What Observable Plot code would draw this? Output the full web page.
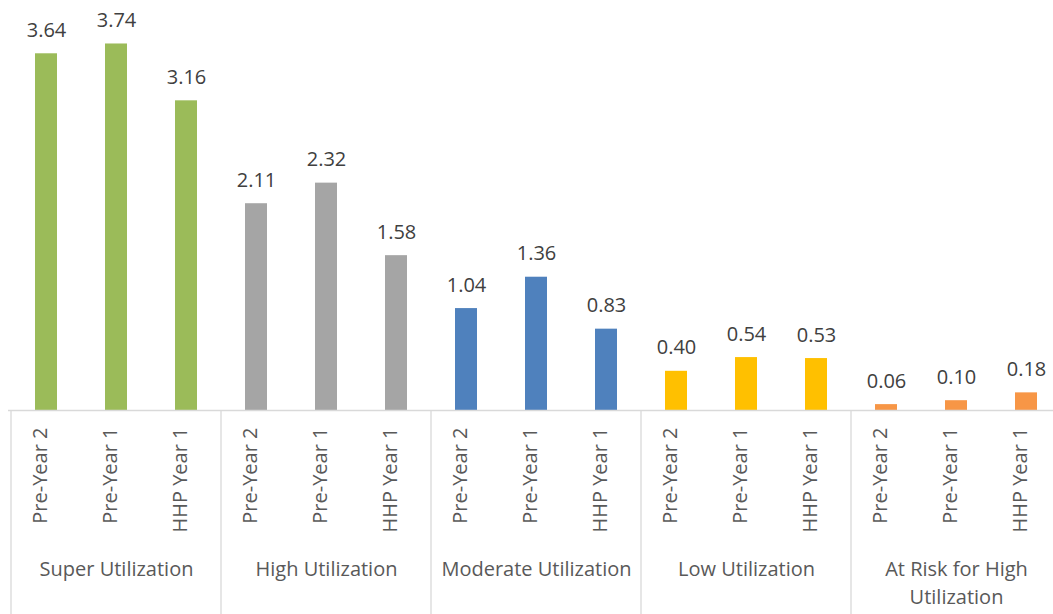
<!DOCTYPE html>
<html>
<head>
<meta charset="utf-8">
<script src="https://cdn.jsdelivr.net/npm/d3@7"></script>
<script src="https://cdn.jsdelivr.net/npm/@observablehq/plot@0.6"></script>
<style>
  html, body { margin: 0; padding: 0; background: #fff; }
  #chart svg { display: block; }
</style>
</head>
<body>
<div id="chart"></div>
<script>
// ---- data ----
const groups = ["Super Utilization", "High Utilization", "Moderate Utilization", "Low Utilization", "At Risk for High Utilization"];
const groupLabels = ["Super Utilization", "High Utilization", "Moderate Utilization", "Low Utilization", "At Risk for High\nUtilization"];
const periods = ["Pre-Year 2", "Pre-Year 1", "HHP Year 1"];
const superUtilization = [3.64, 3.74, 3.16];
const highUtilization = [2.11, 2.32, 1.58];
const moderateUtilization = [1.04, 1.36, 0.83];
const lowUtilization = [0.40, 0.54, 0.53];
const atRiskUtilization = [0.06, 0.10, 0.18];
const groupColors = ["#9BBB59", "#A5A5A5", "#4F81BD", "#FFC000", "#F79646"];

const seriesValues = [superUtilization, highUtilization, moderateUtilization, lowUtilization, atRiskUtilization];
const rows = groups.flatMap((g, gi) => periods.map((p, pi) => ({
  group: g, period: p, key: g + "|" + p, value: seriesValues[gi][pi]
})));
const keys = rows.map(d => d.key);
const groupRows = groups.map((g, gi) => ({group: g, label: groupLabels[gi], key: g + "|" + periods[1], first: g + "|" + periods[0], last: g + "|" + periods[2]}));

const FONT = "'Open Sans', sans-serif";
const W = 1053, H = 614;

// group separators drawn with the plot's own x and y scales
function separators(index, scales, values, dimensions) {
  const x = scales.x, y = scales.y;
  const bw = typeof x.bandwidth === "function" ? x.bandwidth() : 0;
  const step = x(keys[1]) - x(keys[0]);
  const gap = (step - bw) / 2;
  const g = d3.create("svg:g");
  const xs = groupRows.map(d => x(d.first) - gap);
  xs.push(x(groupRows[groupRows.length - 1].last) + bw + gap);
  for (const xv of xs) {
    g.append("line")
      .attr("x1", xv).attr("x2", xv)
      .attr("y1", y(0)).attr("y2", dimensions.height)
      .attr("stroke", "#d9d9d9").attr("stroke-width", 1.3);
  }
  return g.node();
}

const chart = Plot.plot({
  width: W,
  height: H,
  marginTop: 18,
  marginBottom: 204,
  marginLeft: 8,
  marginRight: 0,
  style: {fontFamily: FONT, fontSize: "20px", color: "#595959", background: "#fff"},
  x: {domain: keys, range: [8, 1064], paddingInner: 0.68, paddingOuter: 0.34, axis: null},
  y: {domain: [0, 4], axis: null},
  color: {domain: groups, range: groupColors},
  marks: [
    Plot.barY(rows, {x: "key", y: "value", fill: "group"}),
    Plot.ruleY([0], {stroke: "#d9d9d9", strokeWidth: 1.5}),
    separators,
    Plot.text(rows, {
      x: "key", y: "value", text: d => d.value.toFixed(2),
      dy: -17, lineAnchor: "bottom", fontSize: 20, fill: "#404040", fontFamily: FONT
    }),
    Plot.text(rows, {
      x: "key", text: "period", frameAnchor: "bottom", dy: 17,
      rotate: -90, textAnchor: "end", fontSize: 20, fill: "#595959", fontFamily: FONT
    }),
    Plot.text(groupRows, {
      x: "key", text: "label", frameAnchor: "bottom", dy: 145,
      lineAnchor: "top", lineHeight: 1.42, fontSize: 20, fill: "#595959", fontFamily: FONT
    })
  ]
});
document.getElementById("chart").appendChild(chart);
</script>
</body>
</html>
